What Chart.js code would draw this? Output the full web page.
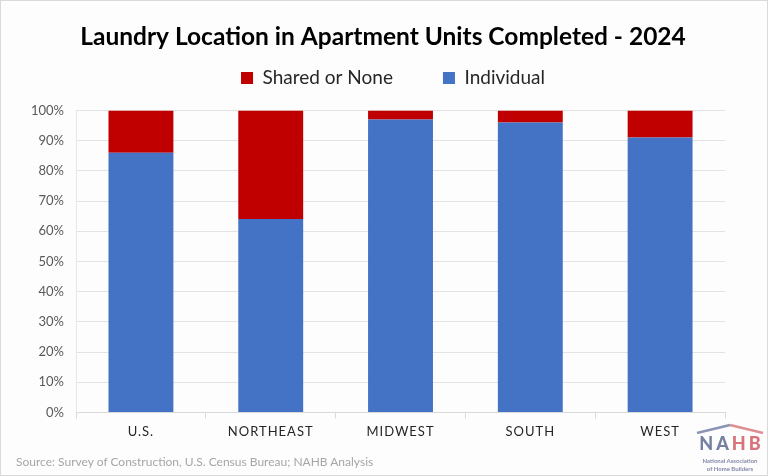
<!DOCTYPE html>
<html>
<head>
<meta charset="utf-8">
<script src="https://cdn.jsdelivr.net/npm/chart.js@4/dist/chart.umd.min.js"></script>
<style>
  html, body { margin: 0; padding: 0; background: #fff; }
  #wrap { position: relative; width: 768px; height: 476px; box-sizing: border-box; border: 1px solid #d9d9d9; background: #fdfdfd; }
  #chart { position: absolute; left: 0; top: 0; }
  .source { position: absolute; left: 15px; top: 453px; font: 12px Lato, sans-serif; color: #a6a6a6; }
  .logo { position: absolute; left: 693px; top: 422px; width: 72px; text-align: center; font-family: Lato, sans-serif; }
  .logo svg { display: block; margin: 0 auto; }
  .logo .mark { font: 900 18px/16px Lato, sans-serif; color: #7680a3; letter-spacing: 3px; margin: 1px 0 0 3px; }
  .logo .mark b { color: #d9737b; font-weight: 900; }
  .logo .name { font: bold 6px/8px Lato, sans-serif; color: #8089a8; margin-top: 6px; }
</style>
</head>
<body>
<div id="wrap">
  <canvas id="chart" width="766" height="474"></canvas>
  <div class="source">Source: Survey of Construction, U.S. Census Bureau; NAHB Analysis</div>
  <div class="logo">
    <svg width="68" height="11" viewBox="0 0 68 11">
      <polyline points="1,10 34,2" fill="none" stroke="#8a93b3" stroke-width="2.5"/>
      <polyline points="34,2 67,10" fill="none" stroke="#de8d93" stroke-width="2.5"/>
    </svg>
    <div class="mark">NA<b>HB</b></div>
    <div class="name">National Association<br>of Home Builders</div>
  </div>
</div>
<script>
// Categorías y valores (% de unidades completadas)
const regions = ['U.S.', 'NORTHEAST', 'MIDWEST', 'SOUTH', 'WEST'];
const individual = [86, 64, 97, 96, 91];
const sharedOrNone = [14, 36, 3, 4, 9];
const yTicks = [0, 10, 20, 30, 40, 50, 60, 70, 80, 90, 100];

const FONT = 'Lato, sans-serif';

// Espaciado entre letras solo para las etiquetas del eje X.
const xLetterSpacing = {
  id: 'xLetterSpacing',
  beforeDraw(chart) {
    const xs = chart.scales.x;
    if (xs && !xs._spaced) {
      const orig = xs.drawLabels.bind(xs);
      xs.drawLabels = (area) => {
        const ctx = chart.ctx;
        ctx.save();
        ctx.letterSpacing = '1px';
        orig(area);
        ctx.restore();
      };
      xs._spaced = true;
    }
  },
};

// Ajustes de posición: hueco bajo la leyenda y centrado de título/leyenda
// sobre todo el lienzo (como en el original).
const headerShift = {
  id: 'headerShift',
  afterInit(chart) {
    const lg = chart.legend;
    if (lg && !lg._tall) {
      const fit = lg.fit.bind(lg);
      lg.fit = () => { fit(); lg.height += 13; };
      lg._tall = true;
    }
  },
  afterLayout(chart) {
    const t = chart.titleBlock;
    if (t) { t.left += 11; t.right += 11; }
    const lg = chart.legend;
    if (lg) { lg.left += 21; lg.right += 21; }
  },
};

new Chart(document.getElementById('chart'), {
  type: 'bar',
  data: {
    labels: regions,
    datasets: [
      { label: 'Individual', data: individual, backgroundColor: '#4472C4', borderWidth: 0 },
      { label: 'Shared or None', data: sharedOrNone, backgroundColor: '#C00000', borderWidth: 0 },
    ],
  },
  options: {
    responsive: false,
    animation: false,
    layout: { padding: { left: 18, right: 42, top: 14, bottom: 29 } },
    datasets: { bar: { barPercentage: 0.5, categoryPercentage: 1 } },
    plugins: {
      title: {
        display: true,
        text: 'Laundry Location in Apartment Units Completed - 2024',
        color: '#000',
        font: { family: FONT, size: 24.5, weight: 'bold' },
        padding: { top: 7, bottom: -33 },
      },
      legend: {
        reverse: true,
        labels: {
          color: '#262626',
          font: { family: FONT, size: 19 },
          boxWidth: 12,
          boxHeight: 12,
          padding: 50,
        },
      },
      tooltip: { enabled: false },
    },
    scales: {
      x: {
        stacked: true,
        grid: { display: true, drawOnChartArea: false, drawTicks: true, tickLength: 6, color: '#d9d9d9' },
        border: { display: true, color: '#d9d9d9' },
        ticks: { color: '#262626', font: { family: FONT, size: 13 }, padding: 6 },
      },
      y: {
        stacked: true,
        min: 0,
        max: 100,
        afterBuildTicks: (axis) => { axis.ticks = yTicks.map((v) => ({ value: v })); },
        grid: { color: '#e3e3e3', drawTicks: false },
        border: { display: true, color: '#e6e6e6' },
        ticks: { color: '#595959', font: { family: FONT, size: 13 }, padding: 12, callback: (v) => `${v}%` },
      },
    },
  },
  plugins: [xLetterSpacing, headerShift],
});
</script>
</body>
</html>
